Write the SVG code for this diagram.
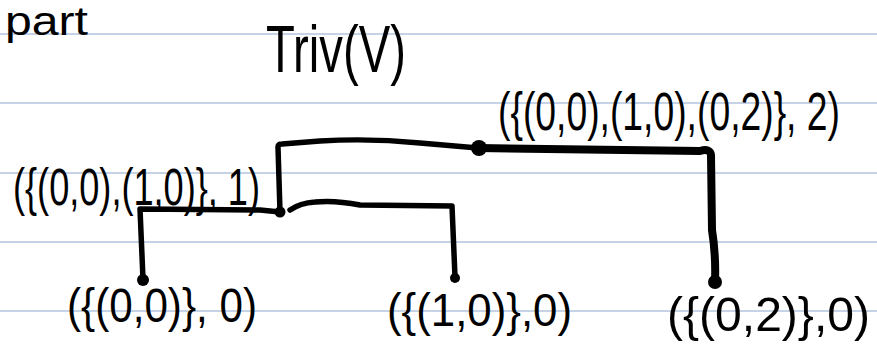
<svg xmlns="http://www.w3.org/2000/svg" width="877" height="345" viewBox="0 0 877 345">
  <style>
    .rule { stroke: #c6d3e6; stroke-width: 2; }
    .hw { font-family: "Liberation Sans", Arial, sans-serif; fill: #000; }
    .ln { fill: none; stroke: #000; stroke-width: 5.5; stroke-linecap: round; stroke-linejoin: round; }
    .thick { stroke-width: 8; }
    .dot { fill: #000; }
  </style>
  <rect width="877" height="345" fill="#ffffff"/>
  <g id="rules">
    <line class="rule" x1="0" y1="34" x2="877" y2="34"/>
    <line class="rule" x1="0" y1="103" x2="877" y2="103"/>
    <line class="rule" x1="0" y1="173" x2="877" y2="173"/>
    <line class="rule" x1="0" y1="242" x2="877" y2="242"/>
    <line class="rule" x1="0" y1="311" x2="877" y2="311"/>
  </g>
  <g id="titles">
    <text class="hw" x="5" y="35" font-size="40" textLength="83" lengthAdjust="spacingAndGlyphs">part</text>
    <text class="hw" x="266" y="72" font-size="66" textLength="140" lengthAdjust="spacingAndGlyphs">Triv(V)</text>
  </g>
  <g id="connectors">
    <path class="ln" d="M280,212 L278,147 Q278,144 282,144 L320,141 Q370,138 420,143 L478,148"/>
    <path class="ln thick" d="M478,148 L700,151 Q710,148 711,155 L712,230 Q716,255 715,282"/>
    <circle class="dot" cx="479" cy="148" r="8"/>
    <circle class="dot" cx="715" cy="282" r="7"/>
    <path class="ln" d="M280,212 L260,210 L140,209 L143,279"/>
    <circle class="dot" cx="280" cy="212" r="5.5"/>
    <circle class="dot" cx="143" cy="280" r="6"/>
    <path class="ln" d="M290,210 Q300,203 315,202 Q335,200 360,205 L452,206 L455,277"/>
    <circle class="dot" cx="455" cy="278" r="5"/>
  </g>
  <g id="node-root">
    <text class="hw" x="498" y="130" font-size="54" textLength="342" lengthAdjust="spacingAndGlyphs">({(0,0),(1,0),(0,2)}, 2)</text>
  </g>
  <g id="node-mid">
    <text class="hw" x="13" y="205" font-size="52" textLength="247" lengthAdjust="spacingAndGlyphs">({(0,0),(1,0)}, 1)</text>
  </g>
  <g id="node-leaf-00">
    <text class="hw" x="67" y="322" font-size="48" textLength="190" lengthAdjust="spacingAndGlyphs">({(0,0)}, 0)</text>
  </g>
  <g id="node-leaf-10">
    <text class="hw" x="387" y="326" font-size="46" textLength="185" lengthAdjust="spacingAndGlyphs">({(1,0)},0)</text>
  </g>
  <g id="node-leaf-02">
    <text class="hw" x="667" y="331" font-size="48" textLength="203" lengthAdjust="spacingAndGlyphs">({(0,2)},0)</text>
  </g>
</svg>
